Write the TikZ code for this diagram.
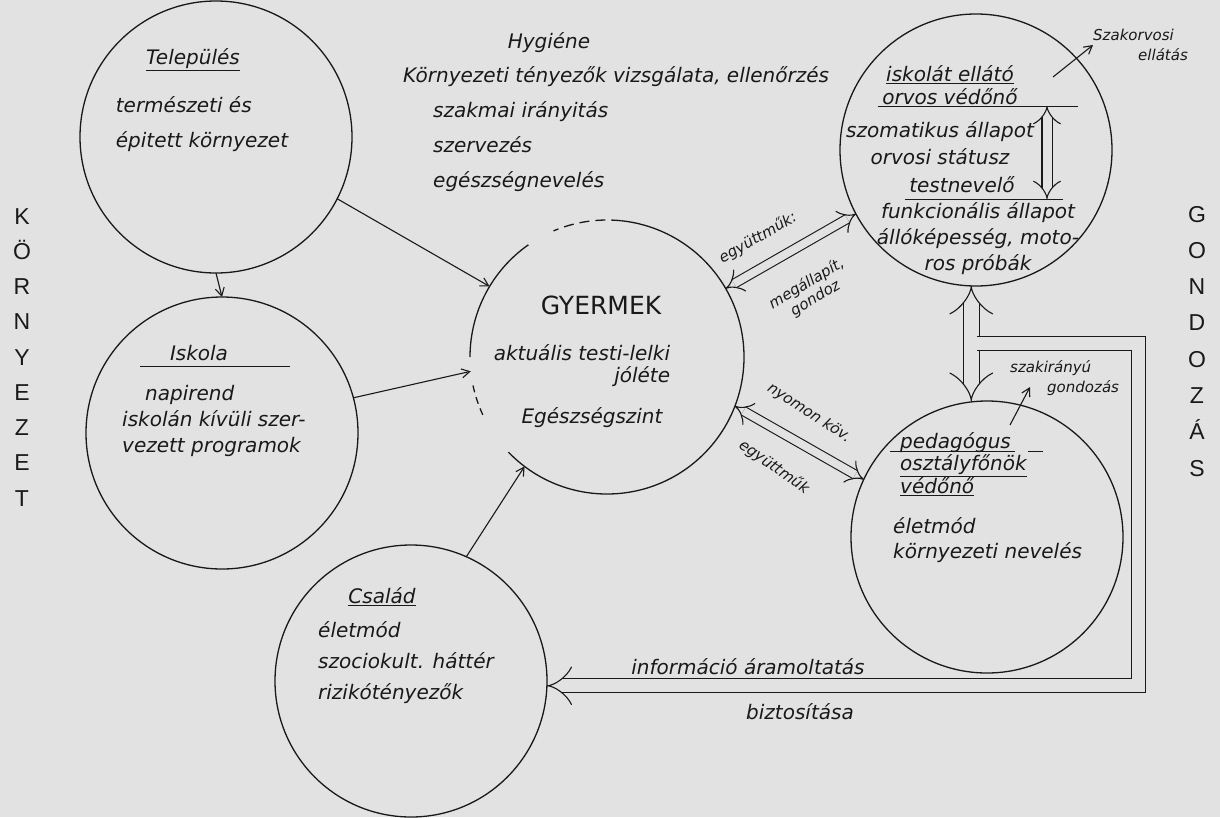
\documentclass[tikz,border=0pt]{standalone}
\usepackage{fontspec}
\setmainfont{DejaVu Sans}
\newfontfamily\nagybetu{Liberation Sans}
\usetikzlibrary{arrows.meta,calc}

\definecolor{papir}{RGB}{226,226,226}
\definecolor{tinta}{RGB}{25,25,25}

\tikzset{
  kor/.style={circle, draw=tinta, line width=1.3pt, minimum size=272pt, inner sep=0pt, outer sep=0pt},
  iras/.style={font=\itshape\fontsize{20}{#1}\selectfont, text=tinta, inner sep=0pt, align=left},
  iras/.default=24,
  kis/.style={font=\itshape\fontsize{15}{#1}\selectfont, text=tinta, inner sep=0pt, align=left},
  kis/.default=18,
  nyil/.style={draw=tinta, line width=1.1pt, -{Straight Barb[length=8pt,width=9pt]}},
  dupla/.style={draw=tinta, line width=1.1pt, double=papir, double distance=#1},
  vonal/.style={draw=tinta, line width=1pt},
  betu/.style={font=\nagybetu\fontsize{23}{23}\selectfont, text=tinta, anchor=base, inner sep=0pt}
}

\begin{document}
\begin{tikzpicture}[x=1pt,y=-1pt]
  \fill[papir] (0,0) rectangle (1220,817);
  \useasboundingbox (0,0) rectangle (1220,817);

  % korok
  \node[kor] (tel) at (216,137) {};
  \node[kor] (isk) at (222,433) {};
  \node[kor, draw=none, minimum size=274pt] (gy) at (607,357) {};
  \node[kor] (orv) at (976,150) {};
  \node[kor] (ped) at (987,537) {};
  \node[kor] (csa) at (411,681) {};

  % a gyermek kore, hezagokkal
  \draw[tinta, line width=1.3pt] (gy.224) arc[start angle=-224, end angle=-444, radius=137];
  \draw[tinta, line width=1.3pt, dash pattern=on 10pt off 6pt] (gy.84) arc[start angle=-84, end angle=-113, radius=137];
  \draw[tinta, line width=1.3pt] (gy.125) arc[start angle=-125, end angle=-180, radius=137];
  \draw[tinta, line width=1.3pt, dash pattern=on 7pt off 5pt] (gy.192) arc[start angle=-192, end angle=-205, radius=137];

  % Telepules
  \node[iras] (telc) at (193,60) {\underline{Település}};
  \node[iras=35] (telt) at (202,124) {természeti és\\épitett környezet};

  % Hygiene
  \node[iras] (hyg) at (549,43) {Hygiéne};
  \node[iras=35, anchor=west] (hygt) at (403,129) {Környezeti tényezők vizsgálata, ellenőrzés\\\hspace*{30pt}szakmai irányitás\\\hspace*{30pt}szervezés\\\hspace*{30pt}egészségnevelés};

  % Iskola
  \node[iras] (iskc) at (199,353) {Iskola};
  \draw[vonal] (140,366) -- (290,366);
  \node[iras=26, anchor=west] (iskt) at (122,421) {\hspace*{23pt}napirend\\iskolán kívüli szer-\\vezett programok};

  % Gyermek
  \node[font=\fontsize{25}{28}\selectfont, text=tinta, inner sep=0pt] (gyc) at (601,305) {GYERMEK};
  \node[iras=22, align=right] (gya) at (582,366) {aktuális testi-lelki\\jóléte};
  \node[iras] (gye) at (592,418) {Egészségszint};

  % iskolat ellato orvos
  \node[iras=23, align=center] (ora) at (950,85) {\underline{iskolát ellátó}\\orvos védőnő};
  \draw[vonal] (878,106) -- (1078,106);
  \node[iras=27, align=center] (orb) at (940,143) {szomatikus állapot\\orvosi státusz};
  \node[iras] (orc) at (962,185) {testnevelő};
  \draw[vonal] (905,199) -- (1063,199);
  \node[iras=26, align=center] (ord) at (978,239) {funkcionális állapot\\állóképesség, moto-\\ros próbák};
  \coordinate (ova) at (1047,106);
  \coordinate (ovb) at (1047,199);
  \draw[dupla=9pt, {Implies}-{Implies}] (ova) -- (ovb);

  % pedagogus
  \node[iras=22, anchor=west] (pda) at (900,464) {pedagógus\\\underline{osztályfőnök}\\\underline{védőnő}};
  \draw[vonal] (890,451) -- (1015,451);
  \draw[vonal] (1028,451) -- (1043,451);
  \node[iras=25, anchor=west] (pdb) at (893,540) {életmód\\környezeti nevelés};

  % Csalad
  \node[iras] (csc) at (382,597) {\underline{Család}};
  \node[iras=31, anchor=west] (cst) at (318,663) {életmód\\szociokult. háttér\\rizikótényezők};

  % nyilak a gyermekhez
  \draw[nyil] (tel.south) -- (isk.north);
  \draw[nyil] (tel.-27) -- (gy.149);
  \draw[nyil] (isk.15) -- (gy.186);
  \draw[nyil] (csa.66) -- (gy.233);

  \draw[dupla=8pt, {Implies}-{Implies}] (gy.30) -- (orv.208);
  \draw[dupla=8pt, {Implies}-{Implies}] (gy.-21) -- (ped.155);
  \node[kis, rotate=30] (l1) at (758,238) {együttműk:};
  \node[kis=17, rotate=31, align=center] (l2) at (811,291) {megállapít,\\gondoz};
  \node[kis, rotate=-33] (l3) at (809,413) {nyomon köv.};
  \node[kis, rotate=-35] (l4) at (774,467) {együttműk};

  % gondozas: keret es visszacsatolas
  \draw[dupla=15pt, {Implies}-{Implies}] (orv.-92) -- (orv.-92 |- ped.north);
  \coordinate (fj) at ($(orv.-92)!0.5!(orv.-92 |- ped.north) + (6,0)$);
  \coordinate (fr2) at ($(fj) + (161,0)$);
  \coordinate (fr3) at (fr2 |- csa.-2);
  \draw[dupla=13pt, -{Implies}, line join=miter] (fj) -- (fr2) -- (fr3) -- (csa.-2);
  \node[iras, anchor=base] (info) at (748,674) {információ áramoltatás};
  \node[iras] (bizt) at (800,712) {biztosítása};

  % szakellatas
  \node[kis=20, anchor=west] (szak) at (1093,45) {Szakorvosi\\\hspace*{45pt}ellátás};
  \coordinate (szo) at (1053,77);
  \draw[nyil] (szo) -- (szak.west);
  \node[kis=20, anchor=west] (szg) at (1010,378) {szakirányú\\\hspace*{37pt}gondozás};
  \coordinate (szi) at (1010,425);
  \coordinate (szv) at (1030,387);
  \draw[nyil] (szi) -- (szv);

  % nagy betuk
  \foreach \b [count=\i from 0] in {K,Ö,R,N,Y,E,Z,E,T}
    \node[betu] (k\i) at (22,224+35.25*\i) {\b};
  \foreach \b [count=\i from 0] in {G,O,N,D,O,Z,Á,S}
    \node[betu] (g\i) at (1197,222+36.3*\i) {\b};
\end{tikzpicture}
\end{document}
